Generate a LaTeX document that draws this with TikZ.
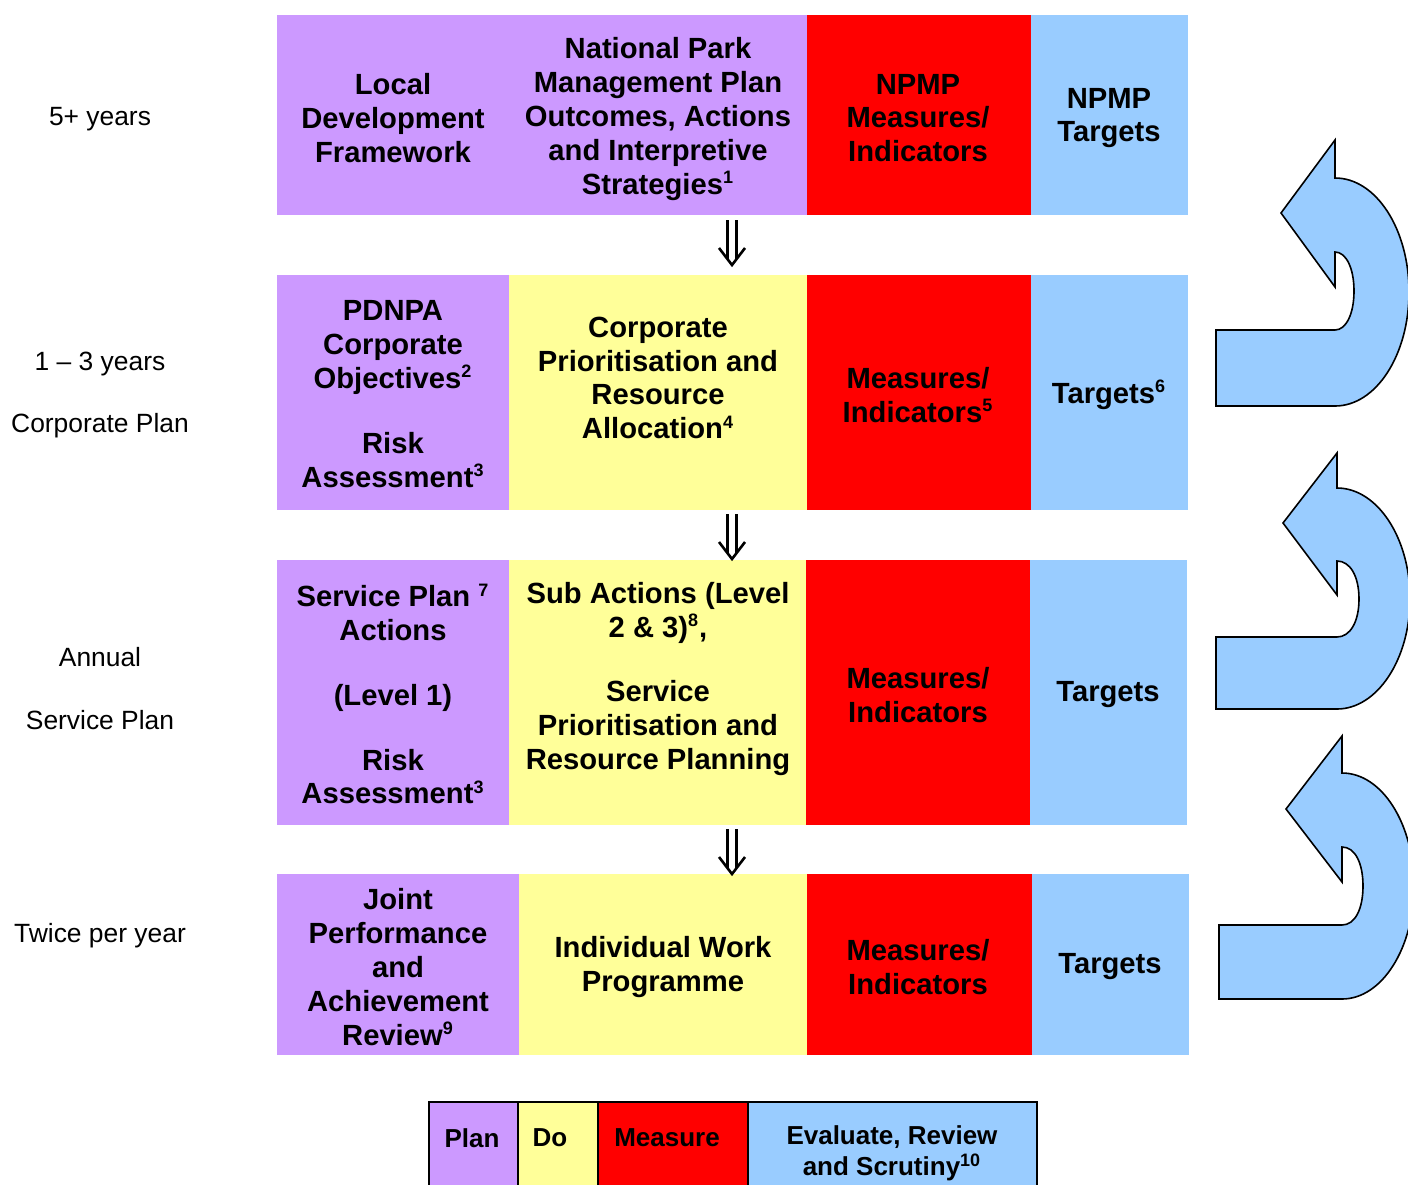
\documentclass[tikz,border=0pt]{standalone}
\usepackage{fontspec}
\setmainfont{Liberation Sans}
\usetikzlibrary{fit,calc}
\definecolor{planc}{HTML}{CC99FF}
\definecolor{doc}{HTML}{FFFF99}
\definecolor{measc}{HTML}{FF0000}
\definecolor{evalc}{HTML}{99CCFF}
\newcommand\ssup[1]{\textsuperscript{\fontsize{9}{9}\selectfont #1}}
\newcommand\dnarrow[1]{%
  \draw[dbl] ($(#1)+(-4.5,0)$) -- ($(#1)+(-4.5,39)$);
  \draw[dbl] ($(#1)+(4.5,0)$) -- ($(#1)+(4.5,39)$);
  \draw[dbl] ($(#1)+(-13,28)$) -- ($(#1)+(0,45)$) -- ($(#1)+(13,28)$);}
\begin{document}
\begin{tikzpicture}[x=0.5pt,y=-0.5pt,
  cell/.style={inner sep=0pt, outer sep=0pt, draw=none},
  lcell/.style={inner sep=0pt, outer sep=0pt, draw=black, line width=0.7pt},
  txt/.style={font=\bfseries\fontsize{14.6}{16.9}\selectfont, align=center, inner sep=0pt},
  side/.style={font=\fontsize{13.2}{15}\selectfont, align=center, inner sep=0pt},
  leg/.style={font=\bfseries\fontsize{13}{15.5}\selectfont, align=center, inner sep=0pt},
  dbl/.style={line width=1.3pt, line join=miter},
  loop/.style={fill=evalc, draw=black, line width=0.8pt, line join=miter}]
\useasboundingbox (0,0) rectangle (1408,1184);

% Row 1
\node[cell, fill=planc, fit={(277,15) (807,215)}] (r1p) {};
\node[cell, fill=measc, fit={(807,15) (1031,215)}] (r1m) {};
\node[cell, fill=evalc, fit={(1031,15) (1188,215)}] (r1e) {};
\node[txt] (t1a) at (393,118) {Local\\Development\\Framework};
\node[txt] (t1b) at (658,119) {National Park\\Management Plan\\Outcomes, Actions\\and Interpretive\\Strategies\ssup{1}};
\node[txt] (t1c) at (918,118) {NPMP\\Measures/\\Indicators};
\node[txt] (t1d) at (1109,118) {NPMP\\Targets};

% Row 2
\node[cell, fill=planc, fit={(277,275) (509,510)}] (r2p) {};
\node[cell, fill=doc, fit={(509,275) (807,510)}] (r2d) {};
\node[cell, fill=measc, fit={(807,275) (1031,510)}] (r2m) {};
\node[cell, fill=evalc, fit={(1031,275) (1188,510)}] (r2e) {};
\node[txt] (t2a) at (393,394) {PDNPA\\Corporate\\Objectives\ssup{2}\\[15.5pt]Risk\\Assessment\ssup{3}};
\node[txt] (t2b) at (658,378) {Corporate\\Prioritisation and\\Resource\\Allocation\ssup{4}};
\node[txt] (t2c) at (918,395) {Measures/\\Indicators\ssup{5}};
\node[txt] (t2d) at (1109,395) {Targets\ssup{6}};

% Row 3
\node[cell, fill=planc, fit={(277,560) (509,825)}] (r3p) {};
\node[cell, fill=doc, fit={(509,560) (806,825)}] (r3d) {};
\node[cell, fill=measc, fit={(806,560) (1030,825)}] (r3m) {};
\node[cell, fill=evalc, fit={(1030,560) (1187,825)}] (r3e) {};
\node[txt] (t3a) at (393,694) {Service Plan \ssup{7}\\Actions\\[15.5pt](Level 1)\\[15.5pt]Risk\\Assessment\ssup{3}};
\node[txt] (t3b) at (658,679) {Sub Actions (Level\\2 \& 3)\ssup{8},\\[15.5pt]Service\\Prioritisation and\\Resource Planning};
\node[txt] (t3c) at (918,695) {Measures/\\Indicators};
\node[txt] (t3d) at (1108,695) {Targets};

% Row 4
\node[cell, fill=planc, fit={(277,874) (519,1055)}] (r4p) {};
\node[cell, fill=doc, fit={(519,874) (807,1055)}] (r4d) {};
\node[cell, fill=measc, fit={(807,874) (1032,1055)}] (r4m) {};
\node[cell, fill=evalc, fit={(1032,874) (1189,1055)}] (r4e) {};
\node[txt] (t4a) at (398,967) {Joint\\Performance\\and\\Achievement\\Review\ssup{9}};
\node[txt] (t4b) at (663,967) {Individual Work\\Programme};
\node[txt] (t4c) at (918,967) {Measures/\\Indicators};
\node[txt] (t4d) at (1110,967) {Targets};

% Side labels
\node[side] (s1) at (100,119) {5+ years};
\node[side] (s2) at (100,364) {1 -- 3 years};
\node[side] (s2b) at (100,426) {Corporate Plan};
\node[side] (s3) at (100,657) {Annual};
\node[side] (s3b) at (100,720) {Service Plan};
\node[side] (s4) at (100,936) {Twice per year};

% Double down arrows
\coordinate (d1) at (732,220);
\coordinate (d2) at (732,514);
\coordinate (d3) at (732,829);
\dnarrow{d1}
\dnarrow{d2}
\dnarrow{d3}

% Curved return arrows
\draw[loop] (1216,406) -- (1216,330) -- (1335,330)
  .. controls (1346,330) and (1354,314) .. (1354,291)
  .. controls (1354,268) and (1346,252) .. (1335,252)
  -- (1335,287) -- (1281,213) -- (1335,140) -- (1335,178)
  .. controls (1376,178) and (1409,229) .. (1409,292)
  .. controls (1409,355) and (1376,406) .. (1335,406) -- cycle;
\draw[loop] (1216,709) -- (1216,637) -- (1337,637)
  .. controls (1350,637) and (1359,622) .. (1359,599)
  .. controls (1359,576) and (1350,561) .. (1337,561)
  -- (1337,595) -- (1283,523) -- (1337,453) -- (1337,488)
  .. controls (1377,488) and (1410,537.5) .. (1410,598.5)
  .. controls (1410,659.5) and (1377,709) .. (1337,709) -- cycle;
\draw[loop] (1219,999) -- (1219,925) -- (1342,925)
  .. controls (1355,925) and (1363,909) .. (1363,886)
  .. controls (1363,863) and (1355,847) .. (1342,847)
  -- (1342,882) -- (1286,809) -- (1342,736) -- (1342,773)
  .. controls (1382,773) and (1414,824) .. (1414,886)
  .. controls (1414,948) and (1382,999) .. (1342,999) -- cycle;

% Legend
\node[lcell, fill=planc, fit={(429,1102) (518,1192)}] (lp) {};
\node[lcell, fill=doc, fit={(518,1102) (598,1192)}] (ld) {};
\node[lcell, fill=measc, fit={(598,1102) (748,1192)}] (lm) {};
\node[lcell, fill=evalc, fit={(748,1102) (1037,1192)}] (le) {};
\node[leg] (lpt) at (472,1138) {Plan};
\node[leg] (ldt) at (550,1138) {Do};
\node[leg] (lmt) at (667,1138) {Measure};
\node[leg] (let) at (892,1153) {Evaluate, Review\\and Scrutiny\ssup{10}};
\end{tikzpicture}
\end{document}
